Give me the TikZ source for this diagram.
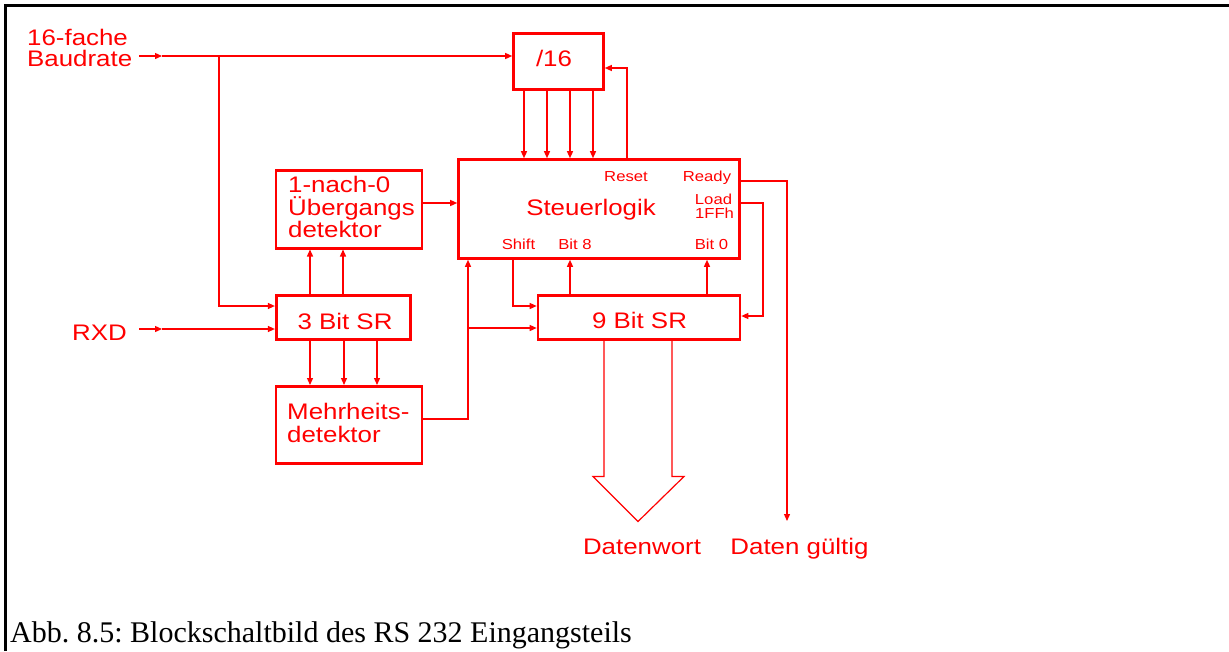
\documentclass[tikz,border=0pt]{standalone}
\usepackage{fontspec}
\setmainfont{Liberation Serif}
\newfontfamily\diagfont[FakeStretch=1.15]{Liberation Sans}
\usetikzlibrary{arrows.meta,calc}
\frenchspacing

\begin{document}
\begin{tikzpicture}[x=1pt,y=-1pt,
  block/.style={draw=red, line width=2.6pt, rectangle, inner sep=0pt},
  wire/.style={draw=red, line width=1.3pt},
  arr/.style={wire, -{Triangle[length=7pt,width=6pt]}},
  bigarrow/.style={draw=red, line width=1.2pt, line join=miter},
  big/.style={text=red, inner sep=0pt, font=\diagfont\fontsize{22.5}{26}\selectfont},
  small/.style={text=red, inner sep=0pt, font=\diagfont\fontsize{14.5}{17}\selectfont}]
\useasboundingbox (0,0) rectangle (1229,651);

% frame
\draw[black, line width=2.2pt] (5.5,651) -- (5.5,5.5) -- (1229,5.5);

% blocks
\node[block, minimum width=90pt, minimum height=56pt] (div16) at (558.5,61.5) {};
\node[big, anchor=base] (div16t) at (554,66.7) {/16};
\node[block, minimum width=281pt, minimum height=99pt] (steuer) at (599,209) {};
\node[block, minimum width=146pt, minimum height=78pt] (uebg) at (349,209.2) {};
\node[block, minimum width=134pt, minimum height=44pt] (sr3) at (343.2,317.3) {};
\node[block, minimum width=146pt, minimum height=77pt] (mehr) at (349,424.8) {};
\node[block, minimum width=202pt, minimum height=44pt] (sr9) at (639,317.2) {};

% block texts
\node[big, anchor=base] (steuert) at (591,215) {Steuerlogik};
\node[small, anchor=base] (lreset) at (626,181) {Reset};
\node[small, anchor=base] (lready) at (707,181) {Ready};
\node[small, anchor=base] (lload) at (713.5,204) {Load};
\node[small, anchor=base] (lffh) at (714.5,218) {1FFh};
\node[small, anchor=base] (lshift) at (518.5,249) {Shift};
\node[small, anchor=base] (lbit8) at (575,249) {Bit 8};
\node[small, anchor=base] (lbit0) at (711.5,249) {Bit 0};
\node[big, anchor=base west] (ut1) at (288,192) {1-nach-0};
\node[big, anchor=base west] (ut2) at (288,215) {Übergangs};
\node[big, anchor=base west] (ut3) at (288,237) {detektor};
\node[big, anchor=base] (sr3t) at (345,329) {3 Bit SR};
\node[big, anchor=base west] (mt1) at (287,419) {Mehrheits-};
\node[big, anchor=base west] (mt2) at (287,442) {detektor};
\node[big, anchor=base] (sr9t) at (639.5,328) {9 Bit SR};

% outer labels
\node[big, anchor=base west] (baud1) at (27,45) {16-fache};
\node[big, anchor=base west] (baud2) at (27,66.7) {Baudrate};
\node[big, anchor=base] (rxd) at (99.5,340) {RXD};
\node[big, anchor=base] (dwort) at (642,554) {Datenwort};
\node[big, anchor=base] (dgue) at (799.5,554) {Daten gültig};

% baud rate input
\coordinate (bin) at (139,56);
\coordinate (bmid) at (162,56);
\coordinate (bbr) at (219,56);
\coordinate (bsr) at (219,306);
\draw[arr] (bin) -- (bmid);
\draw[arr] (bmid) -- (bin -| div16.west);
\draw[arr] (bbr) -- (bsr) -- (bsr -| sr3.west);

% RXD input
\coordinate (rin) at (139,329);
\coordinate (rmid) at (162,329);
\draw[arr] (rin) -- (rmid);
\draw[arr] (rmid) -- (rin -| sr3.west);

% divider outputs into the control logic
\foreach \x in {524,547,570,593} {
  \coordinate (t\x) at (\x,120);
  \draw[arr] (div16.south -| t\x) -- (steuer.north -| t\x);
}

% reset back to the divider
\coordinate (rst) at (627,68);
\draw[arr] (steuer.north -| rst) -- (rst) -- (rst -| div16.east);

% ready -> data valid
\coordinate (rdy) at (787,181);
\coordinate (rdyend) at (787,521);
\draw[arr] (steuer.east |- rdy) -- (rdy) -- (rdyend);

% load 1FFh -> 9 bit SR
\coordinate (ld) at (763,203);
\coordinate (ld2) at (763,316);
\draw[arr] (steuer.east |- ld) -- (ld) -- (ld2) -- (ld2 -| sr9.east);

% shift -> 9 bit SR
\coordinate (sh) at (513,306);
\draw[arr] (steuer.south -| sh) -- (sh) -- (sh -| sr9.west);

% bit 8 and bit 0 back to the control logic
\coordinate (b8) at (570,280);
\coordinate (b0) at (707,280);
\draw[arr] (sr9.north -| b8) -- (steuer.south -| b8);
\draw[arr] (sr9.north -| b0) -- (steuer.south -| b0);

% edge detector -> control logic
\coordinate (ue) at (440,203);
\draw[arr] (uebg.east |- ue) -- (steuer.west |- ue);

% 3 bit SR -> edge detector
\foreach \x in {310,343} {
  \coordinate (u\x) at (\x,270);
  \draw[arr] (sr3.north -| u\x) -- (uebg.south -| u\x);
}

% 3 bit SR -> majority detector
\foreach \x in {310,344,377} {
  \coordinate (m\x) at (\x,360);
  \draw[arr] (sr3.south -| m\x) -- (mehr.north -| m\x);
}

% majority detector -> control logic and 9 bit SR
\coordinate (mj) at (468,419);
\coordinate (mb) at (468,328);
\draw[arr] (mehr.east |- mj) -- (mj) -- (steuer.south -| mj);
\draw[arr] (mb) -- (mb -| sr9.west);

% data word bus arrow
\draw[bigarrow] ($(sr9.south)+(-35,0)$) -- ++(0,136) -- ++(-11,0)
  -- ($(sr9.south)+(-1,181)$) -- ($(sr9.south)+(45,136)$) -- ++(-12,0)
  -- ($(sr9.south)+(33,0)$);

% caption
\node[anchor=base west, inner sep=0pt, font=\fontsize{30}{34}\selectfont] (cap) at (10,642)
  {Abb. 8.5: Blockschaltbild des RS 232 Eingangsteils};
\end{tikzpicture}
\end{document}
